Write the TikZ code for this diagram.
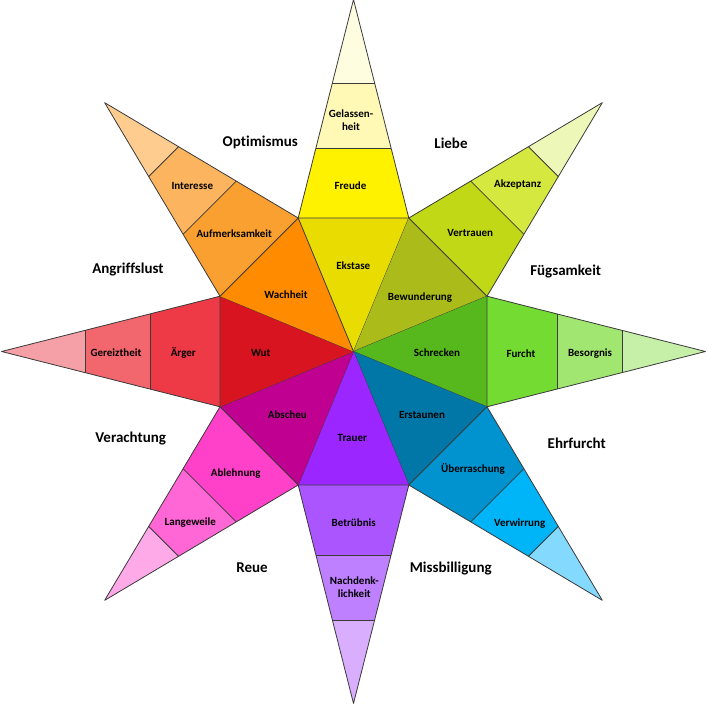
\documentclass[tikz,border=0pt]{standalone}
\usepackage{fontspec}
\setmainfont{Carlito}[Ligatures={NoCommon}]
\usetikzlibrary{calc}
% top
\definecolor{cA1}{HTML}{E8DC00}\definecolor{cA2}{HTML}{FFF200}\definecolor{cA3}{HTML}{FFF9B5}\definecolor{cA4}{HTML}{FFFDE0}
% top-right
\definecolor{cB1}{HTML}{ABBC1A}\definecolor{cB2}{HTML}{C0D815}\definecolor{cB3}{HTML}{D4E840}\definecolor{cB4}{HTML}{EDF7B8}
% right
\definecolor{cC1}{HTML}{56B81C}\definecolor{cC2}{HTML}{74DB32}\definecolor{cC3}{HTML}{A2E672}\definecolor{cC4}{HTML}{C6F0A8}
% bottom-right
\definecolor{cD1}{HTML}{0077A6}\definecolor{cD2}{HTML}{0093D0}\definecolor{cD3}{HTML}{00B4F8}\definecolor{cD4}{HTML}{84D9FF}
% bottom
\definecolor{cE1}{HTML}{9B26FF}\definecolor{cE2}{HTML}{AA55FF}\definecolor{cE3}{HTML}{BF80FF}\definecolor{cE4}{HTML}{D9AEFF}
% bottom-left
\definecolor{cF1}{HTML}{BF0090}\definecolor{cF2}{HTML}{FF40C8}\definecolor{cF3}{HTML}{FF66D6}\definecolor{cF4}{HTML}{FFAAE8}
% left
\definecolor{cG1}{HTML}{D7141F}\definecolor{cG2}{HTML}{EE3A47}\definecolor{cG3}{HTML}{F2666E}\definecolor{cG4}{HTML}{F4A0A6}
% top-left
\definecolor{cH1}{HTML}{FF8C00}\definecolor{cH2}{HTML}{F9A030}\definecolor{cH3}{HTML}{FDB45E}\definecolor{cH4}{HTML}{FFCC90}
\definecolor{edge}{HTML}{3A3A3A}
\tikzset{
  seg/.style={draw=edge, line width=0.8pt, line join=round},
  inlabel/.style={font=\bfseries\fontsize{11}{12.7}\selectfont, align=center, inner sep=0pt, text=black},
  outlabel/.style={font=\bfseries\fontsize{15}{18}\selectfont, inner sep=0pt, text=black}
}
\begin{document}
\begin{tikzpicture}[x=1pt,y=1pt]
\useasboundingbox (-353.5,-354.5) rectangle (353.5,351.5);
\def\R{144.5}
\def\T{352}
\def\ta{0.320}
\def\tb{0.618}
\foreach \ang/\k in {90/A,45/B,0/C,-45/D,-90/E,-135/F,180/G,135/H}{
  \coordinate (v1) at (\ang-22.5:\R);
  \coordinate (v2) at (\ang+22.5:\R);
  \coordinate (tp) at (\ang:\T);
  \coordinate (a1) at ($(v1)!\ta!(tp)$);
  \coordinate (a2) at ($(v2)!\ta!(tp)$);
  \coordinate (b1) at ($(v1)!\tb!(tp)$);
  \coordinate (b2) at ($(v2)!\tb!(tp)$);
  \fill[c\k1] (0,0) -- (v1) -- (v2) -- cycle;
  \fill[c\k2] (v1) -- (v2) -- (a2) -- (a1) -- cycle;
  \fill[c\k3] (a1) -- (a2) -- (b2) -- (b1) -- cycle;
  \fill[c\k4] (b1) -- (b2) -- (tp) -- cycle;
  \draw[seg] (0,0) -- (v1);
  \draw[seg] (v1) -- (tp) -- (v2) -- cycle;
  \draw[seg] (a1) -- (a2);
  \draw[seg] (b1) -- (b2);
}
% inner labels
\node[inlabel] (ekstase) at (-0.2,85.8) {Ekstase};
\node[inlabel] (freude) at (-3,165.5) {Freude};
\node[inlabel] (gelassenheit) at (-2.5,231.5) {Gelassen-\\heit};
\node[inlabel] (bewunderung) at (66.5,53.8) {Bewunderung};
\node[inlabel] (vertrauen) at (116.8,118.8) {Vertrauen};
\node[inlabel] (akzeptanz) at (164.2,166.8) {Akzeptanz};
\node[inlabel] (schrecken) at (83.5,-1.2) {Schrecken};
\node[inlabel] (furcht) at (167.5,-2.2) {Furcht};
\node[inlabel] (besorgnis) at (236.5,-2.2) {Besorgnis};
\node[inlabel] (erstaunen) at (68.5,-63.2) {Erstaunen};
\node[inlabel] (ueberraschung) at (119.5,-117.8) {Überraschung};
\node[inlabel] (verwirrung) at (166.2,-172.2) {Verwirrung};
\node[inlabel] (trauer) at (-1.2,-86.2) {Trauer};
\node[inlabel] (betruebnis) at (0.2,-171.2) {Betrübnis};
\node[inlabel] (nachdenklichkeit) at (0.8,-235.5) {Nachdenk-\\lichkeit};
\node[inlabel] (abscheu) at (-66.2,-63.2) {Abscheu};
\node[inlabel] (ablehnung) at (-117.8,-122.2) {Ablehnung};
\node[inlabel] (langeweile) at (-163.2,-171.2) {Langeweile};
\node[inlabel] (wut) at (-92.8,-1.2) {Wut};
\node[inlabel] (aerger) at (-170.2,-1.2) {Ärger};
\node[inlabel] (gereiztheit) at (-237.5,-0.8) {Gereiztheit};
\node[inlabel] (wachheit) at (-67.5,57.2) {Wachheit};
\node[inlabel] (aufmerksamkeit) at (-119.2,117.8) {Aufmerksamkeit};
\node[inlabel] (interesse) at (-161.2,165.5) {Interesse};
% outer labels
\node[outlabel] (optimismus) at (-93.2,209.2) {Optimismus};
\node[outlabel] (liebe) at (97.5,208.2) {Liebe};
\node[outlabel] (fuegsamkeit) at (212.2,79.8) {Fügsamkeit};
\node[outlabel] (angriffslust) at (-225.5,81.5) {Angriffslust};
\node[outlabel] (verachtung) at (-222.8,-87.5) {Verachtung};
\node[outlabel] (reue) at (-101.5,-216.2) {Reue};
\node[outlabel] (ehrfurcht) at (223.2,-91.8) {Ehrfurcht};
\node[outlabel] (missbilligung) at (97.2,-217.2) {Missbilligung};
\end{tikzpicture}
\end{document}
